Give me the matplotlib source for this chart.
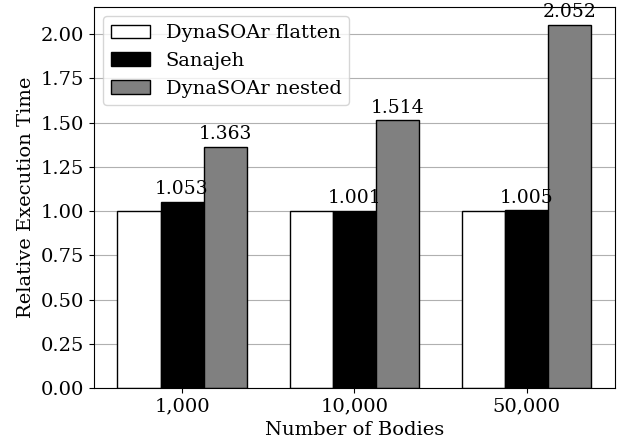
import matplotlib
matplotlib.use('Agg')
import matplotlib.pyplot as plt
import numpy as np

plt.rcParams['font.family'] = 'DejaVu Serif'

bodies = ['1,000', '10,000', '50,000']
flatten = [1.0, 1.0, 1.0]
sanajeh = [1.053, 1.001, 1.005]
nested = [1.363, 1.514, 2.052]

x = np.arange(len(bodies))
w = 0.25

fig, ax = plt.subplots(figsize=(6.21, 4.44), dpi=100)
ax.set_axisbelow(True)
ax.yaxis.grid(True, color='#b0b0b0', linewidth=0.8)

ax.bar(x - w, flatten, w, color='white', edgecolor='black', label='DynaSOAr flatten')
b2 = ax.bar(x, sanajeh, w, color='black', edgecolor='black', label='Sanajeh')
b3 = ax.bar(x + w, nested, w, color='grey', edgecolor='black', label='DynaSOAr nested')

for bars, vals in [(b2, sanajeh), (b3, nested)]:
    for b, v in zip(bars, vals):
        ax.text(b.get_x() + b.get_width() / 2, v + 0.02, f'{v:.3f}',
                ha='center', va='bottom', fontsize=13.5)

ax.set_xticks(x)
ax.set_xticklabels(bodies, fontsize=14)
ax.tick_params(axis='y', labelsize=14)
ax.set_yticks(np.arange(0, 2.01, 0.25))
ax.set_xlabel('Number of Bodies', fontsize=14)
ax.set_ylabel('Relative Execution Time', fontsize=14)
ax.legend(loc='upper left', fontsize=14)

fig.subplots_adjust(left=0.151, right=0.990, top=0.985, bottom=0.126)
fig.savefig('out.png', dpi=100)
